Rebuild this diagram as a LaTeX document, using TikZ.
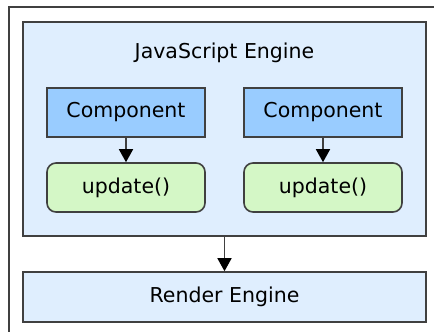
\documentclass[tikz,border=0pt]{standalone}
\usepackage{fontspec}
\setmainfont{DejaVu Sans}
\usetikzlibrary{arrows.meta}
\definecolor{engineblue}{HTML}{DFEEFE}
\definecolor{compblue}{HTML}{99CCFF}
\definecolor{updgreen}{HTML}{D4F7C6}
\definecolor{edgegray}{HTML}{404040}
\tikzset{
  box/.style={draw=edgegray,line width=1.6pt,inner sep=0pt,font=\fontsize{20.5}{24}\selectfont},
  compbox/.style={box,fill=compblue,minimum width=158pt,minimum height=49pt},
  updbox/.style={box,fill=updgreen,rounded corners=9pt,minimum width=158pt,minimum height=49pt},
  flow/.style={draw=edgegray,line width=1.6pt,-{Triangle[width=14pt,length=13pt,fill=black,color=black]}}
}
\begin{document}
\begin{tikzpicture}[x=1pt,y=-1pt]
\useasboundingbox (0,0) rectangle (434,332);
\clip (0,0) rectangle (434,332);
% outer frame
\draw[edgegray,line width=2pt] (9,7) rectangle (450,350);
% engines
\node[box,fill=engineblue,minimum width=403pt,minimum height=214pt] (js) at (224.5,129) {};
\node[font=\fontsize{20.5}{24}\selectfont] (jstitle) at (224.5,53) {JavaScript Engine};
\node[box,fill=engineblue,minimum width=403pt,minimum height=50pt] (render) at (224.5,297) {Render Engine};
% components
\node[compbox] (compa) at (126,112.5) {Component};
\node[compbox] (compb) at (323,112.5) {Component};
\node[updbox] (upda) at (126,187.5) {update()};
\node[updbox] (updb) at (323,187.5) {update()};
\draw[flow] (compa) -- (upda);
\draw[flow] (compb) -- (updb);
\draw[flow] (js) -- (render);
\end{tikzpicture}
\end{document}
